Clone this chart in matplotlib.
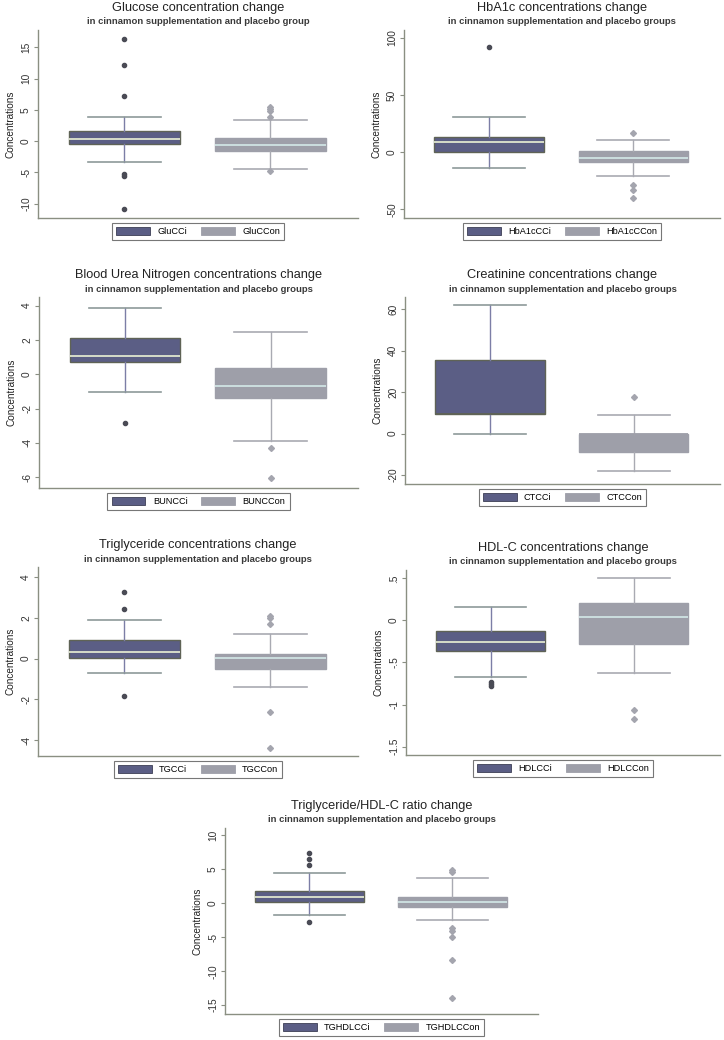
import matplotlib
matplotlib.use("Agg")
import matplotlib.pyplot as plt
from matplotlib.patches import Patch

plt.rcParams['font.family'] = ['Liberation Sans', 'DejaVu Sans']

W, H = 724, 1040

# panel texts
titles = ["Glucose concentration change", "HbA1c concentrations change",
	"Blood Urea Nitrogen concentrations change", "Creatinine concentrations change",
	"Triglyceride concentrations change", "HDL-C concentrations change",
	"Triglyceride/HDL-C ratio change"]
subtitles = ["in cinnamon supplementation and placebo group"] + \
	["in cinnamon supplementation and placebo groups"] * 6
labels_ci = ["GluCCi", "HbA1cCCi", "BUNCCi", "CTCCi", "TGCCi", "HDLCCi", "TGHDLCCi"]
labels_con = ["GluCCon", "HbA1cCCon", "BUNCCon", "CTCCon", "TGCCon", "HDLCCon", "TGHDLCCon"]

# box stats, cinnamon group: q1, median, q3, lower whisker, upper whisker
ci_q1 = [-0.5, 0.0, 0.74, 9.3, 0.03, -0.36, 0.15]
ci_med = [0.4, 9.3, 1.09, 9.3, 0.31, -0.26, 0.93]
ci_q3 = [1.6, 13.7, 2.12, 35.5, 0.9, -0.13, 1.86]
ci_lo = [-3.3, -13.5, -1.05, 0.0, -0.69, -0.67, -1.76]
ci_hi = [3.9, 31.2, 3.88, 62.3, 1.88, 0.16, 4.41]
ci_out = [[16.4, 12.2, 7.2, -5.3, -5.5, -10.9],
	[92.0],
	[-2.85],
	[],
	[3.27, 2.42, -1.84],
	[-0.73, -0.75, -0.78],
	[7.35, 6.5, 5.7, -2.7]]

# placebo group
con_q1 = [-1.5, -8.8, -1.38, -9.0, -0.49, -0.28, -0.54]
con_med = [-0.6, -4.7, -0.68, -0.3, 0.03, 0.04, 0.15]
con_q3 = [0.5, 1.0, 0.35, -0.3, 0.24, 0.21, 0.93]
con_lo = [-4.4, -20.8, -3.88, -17.8, -1.42, -0.62, -2.4]
con_hi = [3.4, 10.8, 2.49, 8.8, 1.21, 0.5, 3.68]
con_out = [[5.5, 5.2, 4.8, 3.9, -4.7],
	[17.0, -29.0, -33.0, -40.0],
	[-4.27, -6.06],
	[17.7],
	[2.09, 1.99, 1.67, -2.64, -4.38],
	[-1.06, -1.17],
	[4.85, 4.6, -3.7, -4.1, -5.0, -8.4, -14.0]]

yticks = [[-10, -5, 0, 5, 10, 15], [-50, 0, 50, 100], [-6, -4, -2, 0, 2, 4],
	[-20, 0, 20, 40, 60], [-4, -2, 0, 2, 4], [-1.5, -1, -0.5, 0, 0.5],
	[-15, -10, -5, 0, 5, 10]]
yticklabels = [["-10", "-5", "0", "5", "10", "15"], ["-50", "0", "50", "100"],
	["-6", "-4", "-2", "0", "2", "4"], ["-20", "0", "20", "40", "60"],
	["-4", "-2", "0", "2", "4"], ["-1.5", "-1", "-.5", "0", ".5"],
	["-15", "-10", "-5", "0", "5", "10"]]
ylims = [(-12.3, 17.8), (-57.6, 107), (-6.62, 4.5), (-24.3, 66),
	(-4.78, 4.49), (-1.6, 0.6), (-16.3, 11.1)]

# axes boxes in pixels: left, right, top, bottom
boxes_px = [(38, 358, 30, 218), (404, 720, 30, 218),
	(39, 358, 297, 488), (405, 720, 297, 484),
	(38, 358, 567, 756), (406, 720, 570, 755),
	(225, 538, 828, 1014)]

dark = "#5b5e85"
dark_edge = "#5f6356"
dark_med = "#dfe6cf"
dark_wh = "#7c7ea6"
light = "#9e9fa9"
light_med = "#cfe3e3"
light_wh = "#a9aab2"
spine_c = "#8a8f82"

fig = plt.figure(figsize=(W/100, H/100), dpi=100)

for i in range(7):
	l, r, t, b = boxes_px[i]
	ax = fig.add_axes([l/W, 1 - b/H, (r-l)/W, (b-t)/H])
	stats = [
		dict(q1=ci_q1[i], med=ci_med[i], q3=ci_q3[i], whislo=ci_lo[i], whishi=ci_hi[i], fliers=ci_out[i]),
		dict(q1=con_q1[i], med=con_med[i], q3=con_q3[i], whislo=con_lo[i], whishi=con_hi[i], fliers=con_out[i]),
	]
	bp = ax.bxp(stats, positions=[1, 2], widths=0.76, capwidths=0.5, patch_artist=True,
		showfliers=True)
	fills = [dark, light]
	edges = [dark_edge, light]
	meds = [dark_med, light_med]
	whs = [dark_wh, light_wh]
	for k in range(2):
		st = stats[k]
		bp['boxes'][k].set_facecolor(fills[k])
		bp['boxes'][k].set_edgecolor(edges[k])
		bp['boxes'][k].set_linewidth(1.0)
		bp['boxes'][k].set_zorder(2)
		bp['medians'][k].set_color(meds[k])
		bp['medians'][k].set_linewidth(1.3)
		if st['med'] == st['q1'] or st['med'] == st['q3']:
			# median sits on the box edge: hide it under the outline
			bp['medians'][k].set_color(edges[k])
		for w in bp['whiskers'][2*k:2*k+2]:
			w.set_color(whs[k])
			w.set_linewidth(1.0)
		for c in bp['caps'][2*k:2*k+2]:
			c.set_color(whs[k] if k == 1 else "#8d9a9a")
			c.set_linewidth(1.2)
	bp['fliers'][0].set(marker='o', markerfacecolor="#4a4b55", markeredgecolor="#4a4b55", markersize=3.0)
	bp['fliers'][1].set(marker='D', markerfacecolor="#a4a5ae", markeredgecolor="#a4a5ae", markersize=3.0)

	ax.set_xlim(0.41, 2.6)
	ax.set_ylim(*ylims[i])
	ax.set_xticks([])
	ax.set_yticks(yticks[i])
	ax.set_yticklabels(yticklabels[i], rotation=90, va='center', fontsize=7.3, color="#333333")
	ax.tick_params(axis='y', length=3, width=0.8, color=spine_c, pad=2)
	for s in ['top', 'right']:
		ax.spines[s].set_visible(False)
	for s in ['left', 'bottom']:
		ax.spines[s].set_color(spine_c)
		ax.spines[s].set_linewidth(1.0)
	ax.set_ylabel("Concentrations", fontsize=7.2, color="#222222", labelpad=4)

	cx = (l + r) / 2 / W
	fig.text(cx, 1 - (t - 22)/H, titles[i], ha='center', va='center', fontsize=9.2, color="#222222")
	fig.text(cx, 1 - (t - 8)/H, subtitles[i], ha='center', va='center', fontsize=6.8,
		fontweight='bold', color="#3a3a3a")

	handles = [Patch(facecolor=dark, edgecolor="#3c3e55", linewidth=0.6),
		Patch(facecolor=light, edgecolor=light, linewidth=0.6)]
	leg = ax.legend(handles, [labels_ci[i], labels_con[i]], ncol=2, loc='upper center',
		bbox_to_anchor=(0.5, -0.025), fontsize=6.6, frameon=True, fancybox=False,
		handlelength=3.7, handleheight=1.0, columnspacing=1.5, borderpad=0.45,
		handletextpad=0.8, borderaxespad=0)
	leg.get_frame().set_edgecolor("#555555")
	leg.get_frame().set_linewidth(0.8)

fig.savefig("out.png", dpi=100)
